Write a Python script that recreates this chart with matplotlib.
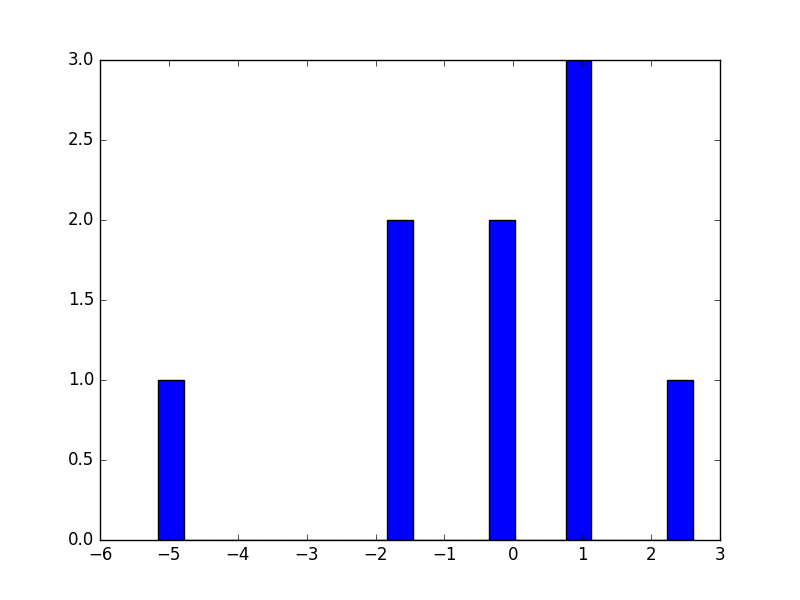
import matplotlib
matplotlib.use("Agg")
import matplotlib.pyplot as plt

plt.style.use("classic")

# sample values (21 bins between min and max)
values = [-5.156, -1.70, -1.60, -0.20, -0.10, 0.90, 0.95, 1.00, 2.606]
n_bins = 21

fig = plt.figure(figsize=(8, 6), dpi=100)
ax = fig.add_subplot(111)
ax.hist(values, bins=n_bins, color="blue", edgecolor="black")
ax.set_xlim(-6, 3)
ax.set_ylim(0, 3)

fig.savefig("out.png", dpi=100)
